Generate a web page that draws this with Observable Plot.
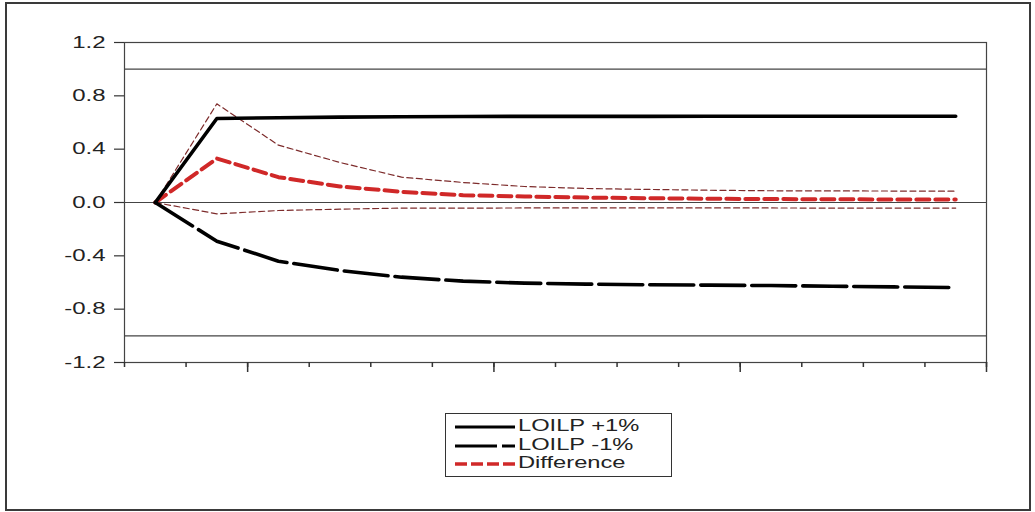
<!DOCTYPE html>
<html>
<head>
<meta charset="utf-8">
<script src="https://cdn.jsdelivr.net/npm/d3@7"></script>
<script src="https://cdn.jsdelivr.net/npm/@observablehq/plot@0.6"></script>
<style>
  html, body { margin: 0; padding: 0; background: #fff; }
  #page { position: relative; width: 1035px; height: 512px; overflow: hidden; background: #fff; }
  #chart { position: absolute; left: 0; top: 0; }
  #border { position: absolute; left: 5px; top: 2px; width: 1022px; height: 505px; border: 2px solid #3a3a3a; pointer-events: none; }
  #legend { position: absolute; left: 445px; top: 413px; width: 225px; height: 62px; border: 1.5px solid #333; background: #fff; }
  .row { position: absolute; left: 0; height: 18px; width: 225px; }
  .row svg { position: absolute; left: 9px; top: 6px; }
  .row span { position: absolute; left: 72px; top: 0; font: 16px "Liberation Sans", Arial, sans-serif; line-height: 18px; color: #222; white-space: nowrap; transform: scaleX(1.48); transform-origin: left center; }
</style>
</head>
<body>
<div id="page">
  <div id="chart"></div>
  <div id="legend"></div>
  <div id="border"></div>
</div>
<script>
// Periods (horizon steps)
const periods = [1, 2, 3, 4, 5, 6, 7, 8, 9, 10, 11, 12, 13, 14];
// LOILP +1% shock response
const plusShock = [0, 0.63, 0.636, 0.64, 0.643, 0.645, 0.646, 0.646, 0.646, 0.647, 0.647, 0.647, 0.647, 0.647];
// LOILP -1% shock response
const minusShock = [0, -0.29, -0.44, -0.51, -0.56, -0.59, -0.605, -0.612, -0.617, -0.62, -0.623, -0.628, -0.633, -0.638];
// Difference (asymmetry) and its bands
const difference = [0, 0.33, 0.19, 0.12, 0.08, 0.055, 0.045, 0.037, 0.032, 0.028, 0.026, 0.024, 0.023, 0.022];
const upperBand = [0, 0.74, 0.43, 0.30, 0.19, 0.15, 0.12, 0.105, 0.098, 0.092, 0.088, 0.087, 0.086, 0.085];
const lowerBand = [0, -0.085, -0.06, -0.05, -0.042, -0.042, -0.041, -0.041, -0.041, -0.041, -0.041, -0.042, -0.042, -0.042];
// Reference lines
const refLines = [-1, 0, 1];
// Axis ticks
const yTicks = [-1.2, -0.8, -0.4, 0, 0.4, 0.8, 1.2];
const xMinorTicks = [0.5, 1.5, 2.5, 3.5, 4.5, 5.5, 6.5, 7.5, 8.5, 9.5, 10.5, 11.5, 12.5, 13.5, 14.5];
const xMajorTicks = [2.5, 6.5, 10.5, 14.5];
const legendLabels = ["LOILP +1%", "LOILP -1%", "Difference"];

const red = "#d02828";
const bandColor = "#7d2b2b";

const chart = Plot.plot({
  width: 1035,
  height: 400,
  marginLeft: 124,
  marginRight: 49,
  marginTop: 42,
  marginBottom: 38,
  style: { fontFamily: "'Liberation Sans', Arial, sans-serif", fontSize: "16px", color: "#222", background: "#fff" },
  x: { domain: [0.5, 14.5], label: null },
  y: { domain: [-1.2, 1.2], label: null },
  marks: [
    Plot.ruleY(refLines, { stroke: "#444", strokeWidth: 1.2 }),
    Plot.frame({ stroke: "#444", strokeWidth: 1.2 }),
    Plot.axisY({ ticks: yTicks, tickSize: 10, tickPadding: 9, tickFormat: d => d.toFixed(1), stroke: "#333", strokeWidth: 1.2 }),
    Plot.axisX({ ticks: xMinorTicks, tickSize: 5, tickFormat: () => "", stroke: "#333", strokeWidth: 1.5 }),
    Plot.axisX({ ticks: xMajorTicks, tickSize: 10, tickFormat: () => "", stroke: "#333", strokeWidth: 1.5 }),
    Plot.line(periods, { x: periods, y: upperBand, stroke: bandColor, strokeWidth: 1.2, strokeDasharray: "6,3.5" }),
    Plot.line(periods, { x: periods, y: lowerBand, stroke: bandColor, strokeWidth: 1.2, strokeDasharray: "6,3.5" }),
    Plot.line(periods, { x: periods, y: difference, stroke: red, strokeWidth: 4, strokeDasharray: "13,6" }),
    Plot.line(periods, { x: periods, y: minusShock, stroke: "#000", strokeWidth: 3.6, strokeDasharray: "44,7" }),
    Plot.line(periods, { x: periods, y: plusShock, stroke: "#000", strokeWidth: 3.6 })
  ]
});

// widen the tick labels horizontally like the reference
chart.querySelectorAll('[aria-label="y-axis tick label"] text').forEach(t => {
  const tr = t.getAttribute("transform");
  if (tr) {
    t.setAttribute("transform", tr + " scale(1.5,1)");
  } else {
    const x = +t.getAttribute("x") || 0, y = +t.getAttribute("y") || 0;
    t.removeAttribute("x"); t.removeAttribute("y");
    t.setAttribute("transform", `translate(${x},${y}) scale(1.5,1)`);
  }
});

document.getElementById("chart").appendChild(chart);

// Legend
const legendStyles = [
  { stroke: "#000", width: 3.2, dash: null },
  { stroke: "#000", width: 3.2, dash: "42,5,13,20" },
  { stroke: red, width: 3.6, dash: "12,4" }
];
const rowTops = [3, 22, 40];
const legend = document.getElementById("legend");
legendLabels.forEach((label, i) => {
  const row = document.createElement("div");
  row.className = "row";
  row.style.top = rowTops[i] + "px";
  const s = legendStyles[i];
  row.innerHTML = `<svg width="62" height="8"><line x1="0" y1="4" x2="60" y2="4" stroke="${s.stroke}" stroke-width="${s.width}" ${s.dash ? `stroke-dasharray="${s.dash}"` : ""}/></svg><span></span>`;
  row.querySelector("span").textContent = label;
  legend.appendChild(row);
});
</script>
</body>
</html>
